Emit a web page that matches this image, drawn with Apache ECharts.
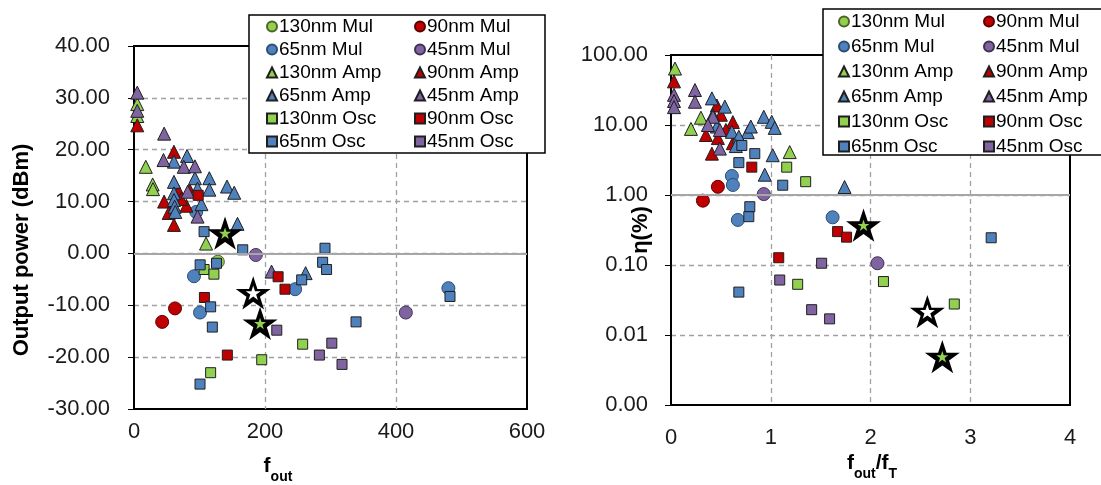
<!DOCTYPE html>
<html>
<head>
<meta charset="utf-8">
<script src="https://cdn.jsdelivr.net/npm/echarts@6/dist/echarts.min.js"></script>
<style>
  html, body { margin: 0; padding: 0; background: #fff; }
  #chart { width: 1101px; height: 485px; }
</style>
</head>
<body>
<div id="chart"></div>
<script>
// ---------- left panel: output power (dBm) vs f_out ----------
const powMul130 = [[128, -1.6]];
const powMul90  = [[43, -13.2], [62.6, -10.6]];
const powMul65  = [[95, 8.0], [91.6, -4.4], [100.8, -11.4], [246, -6.9], [480, -6.7]];
const powMul45  = [[186, -0.3], [415, -11.4]];
const powAmp130 = [[5, 28.8], [5, 26.5], [18, 16.7], [28.5, 13.3], [29, 12.4], [110, 1.9]];
const powAmp90  = [[5, 24.7], [46, 10], [53, 7.8], [61, 5.5], [61, 19.6], [68, 12], [80, 9.2], [85, 12.2], [72, 10.5]];
const powAmp65  = [[61, 17.7], [81, 18.8], [61, 13.8], [61, 11.6], [61, 10.3], [62, 9], [63, 8], [93, 14.5], [97, 12.5],
                   [115, 14.5], [115, 12.3], [142, 12.9], [153, 11.7], [103, 9.5], [158, 5.7], [262, -3.8]];
const powAmp45  = [[5, 31], [5, 27.5], [46, 23.1], [45, 18], [76, 16.7], [93, 16.8], [82, 11.9], [97, 7.1], [210, -3.5]];
const powOsc130 = [[107, -3.1], [122, -4.0], [257.5, -17.5], [195, -20.5], [117, -23]];
const powOsc90  = [[98, 11.2], [107.5, -8.5], [220, -4.5], [230.5, -6.9], [142.5, -19.6]];
const powOsc65  = [[107, 4.2], [166, 0.7], [291.6, 1.0], [288, -1.7], [294, -3.1], [126, -1.9], [101, -2.2], [256, -5.1],
                   [117, -10.3], [119.6, -14.2], [100.8, -25.2], [339, -13.2], [482.4, -8.3]];
const powOsc45  = [[218, -14.8], [302, -17.3], [283, -19.6], [317.6, -21.4]];
const powStarGreen = [[139, 3.9], [192.5, -13.5]];
const powStarWhite = [[182, -7.6]];

// ---------- right panel: efficiency (%) vs f_out/f_T ----------
const effMul130 = [];
const effMul90  = [[0.47, 1.31], [0.32, 0.83]];
const effMul65  = [[0.61, 1.87], [0.62, 1.39], [0.67, 0.44], [1.62, 0.48]];
const effMul45  = [[0.93, 1.03], [2.07, 0.106]];
const effAmp130 = [[0.04, 64], [0.30, 12.7], [0.20, 8.8], [1.19, 4.1]];
const effAmp90  = [[0.03, 42], [0.46, 19], [0.62, 11], [0.35, 7.2], [0.47, 6.5], [0.62, 5.5], [0.41, 3.9], [0.50, 14], [0.55, 8.5]];
const effAmp65  = [[0.41, 24], [0.54, 18.3], [0.42, 13.9], [0.46, 9.5], [0.61, 8], [0.77, 7.9], [0.68, 6.8], [0.93, 13.1],
                   [1.01, 11.1], [1.04, 9.1], [1.02, 3.7], [0.94, 1.95], [1.74, 1.3], [0.80, 9.5], [0.65, 5]];
const effAmp45  = [[0.03, 27], [0.03, 22], [0.03, 18], [0.24, 31.6], [0.24, 21.5], [0.42, 13.1], [0.37, 10], [0.49, 8.5], [0.49, 4.6]];
const effOsc130 = [[1.16, 2.5], [1.35, 1.55], [1.27, 0.053], [2.13, 0.058], [2.84, 0.0277]];
const effOsc90  = [[0.81, 2.5], [1.67, 0.30], [1.76, 0.25], [1.08, 0.127]];
const effOsc65  = [[0.71, 5.1], [0.84, 3.9], [0.68, 2.9], [1.12, 1.38], [0.79, 0.68], [0.78, 0.49], [0.68, 0.041], [3.21, 0.245]];
const effOsc45  = [[1.51, 0.106], [1.09, 0.061], [1.41, 0.023], [1.59, 0.017]];
const effStarGreen = [[1.93, 0.37], [2.72, 0.0049]];
const effStarWhite = [[2.57, 0.0215]];

// ---------- axes ----------
const powTicks = { min: -30, max: 40, interval: 10 };
const foutTicks = { min: 0, max: 600, interval: 200 };
const ratioTicks = { min: 0, max: 4, interval: 1 };
const effRange = { min: 0.001, max: 100 };

// legend layout: two columns per panel
const legendColA = ['130nm Mul', '65nm Mul', '130nm Amp', '65nm Amp', '130nm Osc', '65nm Osc'];
const legendColB = ['90nm Mul', '45nm Mul', '90nm Amp', '45nm Amp', '90nm Osc', '45nm Osc'];

const nodeFill = { '130nm': '#92D050', '90nm': '#C00000', '65nm': '#4F81BD', '45nm': '#8064A2' };
const nodeEdge = { '130nm': '#4F6228', '90nm': '#5A0000', '65nm': '#2C4D75', '45nm': '#3F3151' };
const kindSymbol = { Mul: 'circle', Amp: 'triangle', Osc: 'rect' };
const kindSize = { Mul: 13, Amp: 13, Osc: 10 };

const STAR = 'path://M50,2 L61.8,37.6 L99,37.6 L68.9,59.5 L80.4,95 L50,73.1 L19.6,95 L31.1,59.5 L1,37.6 L38.2,37.6 Z';
const FONT = 'Liberation Sans, Arial, sans-serif';

const leftSets = {
  '130nm Mul': powMul130, '90nm Mul': powMul90, '65nm Mul': powMul65, '45nm Mul': powMul45,
  '130nm Amp': powAmp130, '90nm Amp': powAmp90, '65nm Amp': powAmp65, '45nm Amp': powAmp45,
  '130nm Osc': powOsc130, '90nm Osc': powOsc90, '65nm Osc': powOsc65, '45nm Osc': powOsc45
};
const rightSets = {
  '130nm Mul': effMul130, '90nm Mul': effMul90, '65nm Mul': effMul65, '45nm Mul': effMul45,
  '130nm Amp': effAmp130, '90nm Amp': effAmp90, '65nm Amp': effAmp65, '45nm Amp': effAmp45,
  '130nm Osc': effOsc130, '90nm Osc': effOsc90, '65nm Osc': effOsc65, '45nm Osc': effOsc45
};
const drawOrder = ['130nm Mul', '90nm Mul', '65nm Mul', '45nm Mul', '130nm Amp', '90nm Amp', '65nm Amp', '45nm Amp',
                   '130nm Osc', '90nm Osc', '65nm Osc', '45nm Osc'];

function markerSeries(name, data, idx) {
  const [node, kind] = name.split(' ');
  return {
    type: 'scatter', name, data, xAxisIndex: idx, yAxisIndex: idx,
    symbol: kindSymbol[kind], symbolSize: kindSize[kind], z: 3,
    itemStyle: {
      color: nodeFill[node],
      borderColor: kind === 'Mul' ? nodeEdge[node] : '#1f1f1f',
      borderWidth: 1, opacity: 1
    },
    emphasis: { disabled: true }
  };
}

function starSeries(data, fill, idx) {
  return [
    { type: 'scatter', data, xAxisIndex: idx, yAxisIndex: idx, symbol: STAR, symbolKeepAspect: true,
      symbolSize: 35, z: 4, itemStyle: { color: '#000', opacity: 1 }, silent: true },
    { type: 'scatter', data, xAxisIndex: idx, yAxisIndex: idx, symbol: STAR, symbolKeepAspect: true,
      symbolSize: fill === '#fff' ? 15 : 12, z: 5, itemStyle: { color: fill, opacity: 1 }, silent: true }
  ];
}

function baselineSeries(value, idx) {
  return {
    type: 'line', data: [], xAxisIndex: idx, yAxisIndex: idx, z: 1, silent: true,
    markLine: { silent: true, symbol: 'none', label: { show: false },
      lineStyle: { color: '#A6A6A6', type: 'solid', width: 2 }, data: [{ yAxis: value }] }
  };
}

const series = [baselineSeries(0, 0), baselineSeries(1, 1)];
drawOrder.forEach(n => series.push(markerSeries(n, leftSets[n], 0)));
drawOrder.forEach(n => series.push(markerSeries(n, rightSets[n], 1)));
series.push(...starSeries(powStarGreen, '#92D050', 0), ...starSeries(powStarWhite, '#fff', 0));
series.push(...starSeries(effStarGreen, '#92D050', 1), ...starSeries(effStarWhite, '#fff', 1));

const legendIcon = n => kindSymbol[n.split(' ')[1]];
function legendCol(names, left, top, gap) {
  return {
    data: names.map(n => ({ name: n, icon: legendIcon(n) })),
    orient: 'vertical', left, top, padding: 0, itemGap: gap,
    itemWidth: 10, itemHeight: 10, selectedMode: false, z: 12,
    textStyle: { fontFamily: FONT, fontSize: 19, color: '#000', lineHeight: 18, padding: [0, 0, 0, -3] }
  };
}

const tickLabel = { fontFamily: FONT, fontSize: 22, color: '#1a1a1a' };
const dashed = { show: true, showMinLine: false, showMaxLine: false, lineStyle: { color: '#A0A0A0', type: [5, 4], width: 1.3 } };

const option = {
  animation: false,
  backgroundColor: '#fff',
  grid: [
    { left: 134, top: 46, width: 393, height: 363, show: true, borderColor: '#000', borderWidth: 2, backgroundColor: 'transparent' },
    { left: 671, top: 55, width: 399, height: 350, show: true, borderColor: '#000', borderWidth: 2, backgroundColor: 'transparent' }
  ],
  xAxis: [
    { type: 'value', gridIndex: 0, ...foutTicks,
      axisLine: { show: false }, axisTick: { show: false },
      axisLabel: { ...tickLabel, margin: 12 }, splitLine: dashed },
    { type: 'value', gridIndex: 1, ...ratioTicks,
      axisLine: { show: false }, axisTick: { show: false },
      axisLabel: { ...tickLabel, margin: 22 }, splitLine: dashed }
  ],
  yAxis: [
    { type: 'value', gridIndex: 0, ...powTicks,
      axisLine: { show: true, lineStyle: { color: '#000', width: 2 } },
      axisTick: { show: true, inside: false, length: 6, lineStyle: { color: '#000' } },
      axisLabel: { ...tickLabel, margin: 24, formatter: v => v.toFixed(2) }, splitLine: dashed },
    { type: 'log', gridIndex: 1, logBase: 10, ...effRange,
      axisLine: { show: true, lineStyle: { color: '#000', width: 2 } },
      axisTick: { show: true, inside: false, length: 6, lineStyle: { color: '#000' } },
      axisLabel: { ...tickLabel, margin: 23, formatter: v => Number(v).toFixed(2) }, splitLine: dashed }
  ],
  legend: [
    legendCol(legendColA, 266, 17, 4),
    legendCol(legendColB, 414, 17, 4),
    legendCol(legendColA, 838, 12, 6),
    legendCol(legendColB, 983, 12, 6)
  ],
  graphic: [
    { type: 'rect', z: 10, shape: { x: 249, y: 15, width: 296, height: 138 },
      style: { fill: '#fff', stroke: '#000', lineWidth: 1.5 } },
    { type: 'rect', z: 10, shape: { x: 823, y: 9, width: 290, height: 146 },
      style: { fill: '#fff', stroke: '#000', lineWidth: 1.5 } },
    { type: 'text', z: 10, x: 22, y: 250, rotation: Math.PI / 2,
      style: { text: 'Output power (dBm)', font: 'bold 22px ' + FONT, fill: '#000',
               textAlign: 'center', textVerticalAlign: 'middle', align: 'center', verticalAlign: 'middle' } },
    { type: 'text', z: 10, x: 641, y: 230, rotation: Math.PI / 2,
      style: { text: 'η(%)', font: 'bold 22px ' + FONT, fill: '#000',
               textAlign: 'center', textVerticalAlign: 'middle', align: 'center', verticalAlign: 'middle' } },
    { type: 'text', z: 10, x: 278, y: 470,
      style: { text: '{f|f}{s|out}', fill: '#000', textAlign: 'center', textVerticalAlign: 'middle', align: 'center', verticalAlign: 'middle',
               rich: { f: { font: 'bold 21px ' + FONT, fill: '#000', lineHeight: 28, verticalAlign: 'top' },
                       s: { font: 'bold 14px ' + FONT, fill: '#000', lineHeight: 28, verticalAlign: 'bottom' } } } },
    { type: 'text', z: 10, x: 872, y: 467,
      style: { text: '{f|f}{s|out}{f|/f}{s|T}', fill: '#000', textAlign: 'center', textVerticalAlign: 'middle', align: 'center', verticalAlign: 'middle',
               rich: { f: { font: 'bold 21px ' + FONT, fill: '#000', lineHeight: 28, verticalAlign: 'top' },
                       s: { font: 'bold 14px ' + FONT, fill: '#000', lineHeight: 28, verticalAlign: 'bottom' } } } }
  ],
  series
};

const chart = echarts.init(document.getElementById('chart'), null, { renderer: 'canvas' });
chart.setOption(option);
</script>
</body>
</html>
